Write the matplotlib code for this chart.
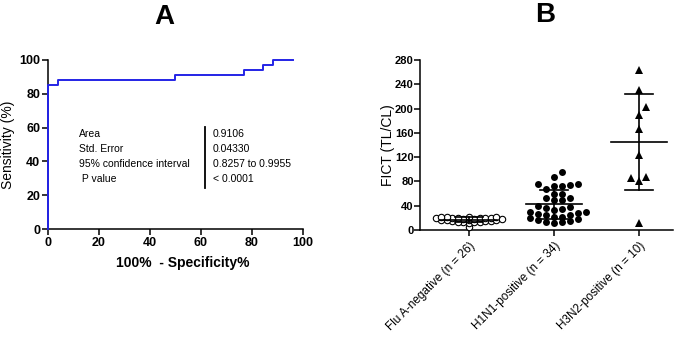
import numpy as np
import matplotlib
matplotlib.use("Agg")
import matplotlib.pyplot as plt

plt.rcParams['font.family'] = ['Liberation Sans', 'DejaVu Sans']

# ---------------- data ----------------
roc_fpr = [0, 3.85, 50.0, 76.9, 84.6, 88.5, 96.2]
roc_sens = [85.3, 88.2, 91.2, 94.1, 97.1, 100.0, 100.0]

stat_names = ["Area", "Std. Error", "95% confidence interval", " P value"]
stat_values = ["0.9106", "0.04330", "0.8257 to 0.9955", "< 0.0001"]

categories = ["Flu A-negative (n = 26)", "H1N1-positive (n = 34)", "H3N2-positive (n = 10)"]
flu_neg = [5, 12, 13, 13, 14, 14, 15, 15, 15, 16, 16, 17, 17, 18, 18, 18,
           19, 19, 19, 20, 20, 20, 21, 21, 22, 22]
h1n1 = [12, 13, 14, 15, 17, 18, 20, 22, 22, 24, 25, 26, 28, 30, 30, 33, 35,
        36, 38, 40, 50, 50, 52, 52, 59, 60, 67, 72, 73, 74, 75, 75, 88, 96]
h3n2 = [263, 231, 190, 202, 167, 124, 80, 88, 85, 12]

# ---------------- figure ----------------
W, H = 685, 338
fig = plt.figure(figsize=(W / 100, H / 100), dpi=100)

lw = 1.1
# Panel A
axA = fig.add_axes([48 / W, 1 - 229 / H, (302.7 - 48) / W, (229 - 60) / H])
xs = [0] + roc_fpr
ys = [0] + roc_sens
axA.step(xs, ys, where='post', color='#2424E6', lw=1.4, clip_on=False, zorder=3)
axA.set_xlim(0, 100)
axA.set_ylim(0, 100)
axA.set_xticks(range(0, 101, 20))
axA.set_yticks(range(0, 101, 20))
for s in ['top', 'right']:
    axA.spines[s].set_visible(False)
for s in ['left', 'bottom']:
    axA.spines[s].set_linewidth(lw)
axA.tick_params(width=lw, length=4, labelsize=9, pad=1.5)
for lab in axA.get_xticklabels() + axA.get_yticklabels():
    lab.set_fontweight('bold')
axA.set_ylabel("Sensitivity (%)", fontsize=10, va='center')
axA.yaxis.set_label_coords(-0.157, 0.5)
axA.set_xlabel("100%  - Specificity%", fontsize=10, fontweight='bold', va='center')
axA.xaxis.set_label_coords(0.53, -0.2)

def to_dx(px):
    return (px - 48) / 2.547

def to_dy(py):
    return (229 - py) / 1.69

rows_y = [134, 149, 164, 179]
for name, val, py in zip(stat_names, stat_values, rows_y):
    axA.text(to_dx(79), to_dy(py), name, fontsize=7.5, va='center', ha='left')
    axA.text(to_dx(213), to_dy(py), val, fontsize=7.5, va='center', ha='left')
axA.plot([to_dx(204.7)] * 2, [to_dy(127), to_dy(188)], color='black', lw=1.3)

# Panel B
axB = fig.add_axes([420 / W, 1 - 230 / H, (673 - 420) / W, (230 - 60) / H])
axB.set_xlim(-0.576, 2.4)
axB.set_ylim(0, 280)
px_per_x = 85.0
px_per_y = 170.0 / 280.0


def swarm(values, d, h):
    """Column-based swarm: points share a column only if vertically >= h px apart."""
    cols = {}
    offs = np.zeros(len(values))
    cands = [0]
    for j in range(1, 40):
        cands += [j, -j]
    for i in range(len(values)):
        y = values[i] * px_per_y
        for c in cands:
            ys_c = cols.get(c, [])
            if all(abs(y - yy) >= h for yy in ys_c):
                cols.setdefault(c, []).append(y)
                offs[i] = c * d
                break
    return offs / px_per_x

groups = [flu_neg, h1n1, h3n2]
styles = [dict(marker='o', ms=4.6, mfc='white', mec='black', mew=0.8),
          dict(marker='o', ms=5.0, mfc='black', mec='black', mew=0),
          dict(marker='^', ms=6.0, mfc='black', mec='black', mew=0)]
params = [(5.5, 2.6), (8.0, 5.0), (7.5, 8.0)]
for gi, (vals, st, (d, h)) in enumerate(zip(groups, styles, params)):
    vals = np.array(vals, dtype=float)
    offs = swarm(vals, d, h)
    axB.plot(gi + offs, vals, linestyle='none', zorder=3, clip_on=False, **st)
    m = vals.mean()
    sd = vals.std(ddof=1)
    axB.plot([gi - 0.335, gi + 0.335], [m, m], color='black', lw=1.2, zorder=4)
    axB.plot([gi - 0.17, gi + 0.17], [m + sd, m + sd], color='black', lw=1.2, zorder=4)
    axB.plot([gi - 0.17, gi + 0.17], [m - sd, m - sd], color='black', lw=1.2, zorder=4)
    axB.plot([gi, gi], [m - sd, m + sd], color='black', lw=1.2, zorder=4)

axB.set_xticks(range(3))
axB.set_xticklabels(categories, rotation=45, ha='right', rotation_mode='anchor', fontsize=8.5)
axB.set_yticks(range(0, 281, 40))
for s in ['top', 'right']:
    axB.spines[s].set_visible(False)
for s in ['left', 'bottom']:
    axB.spines[s].set_linewidth(lw)
axB.tick_params(width=lw, length=4)
axB.tick_params(axis='y', labelsize=8, pad=0.5)
axB.tick_params(axis='x', pad=3)
for lab in axB.get_yticklabels():
    lab.set_fontweight('bold')
axB.set_ylabel("FICT (TL/CL)", fontsize=10, va='center')
axB.yaxis.set_label_coords(-0.126, 0.5)

fig.text(164 / W, 1 - 17 / H, "A", fontsize=20, fontweight='bold', ha='center', va='center')
fig.text(545 / W, 1 - 15 / H, "B", fontsize=20, fontweight='bold', ha='center', va='center')

fig.savefig("out.png", dpi=100)
